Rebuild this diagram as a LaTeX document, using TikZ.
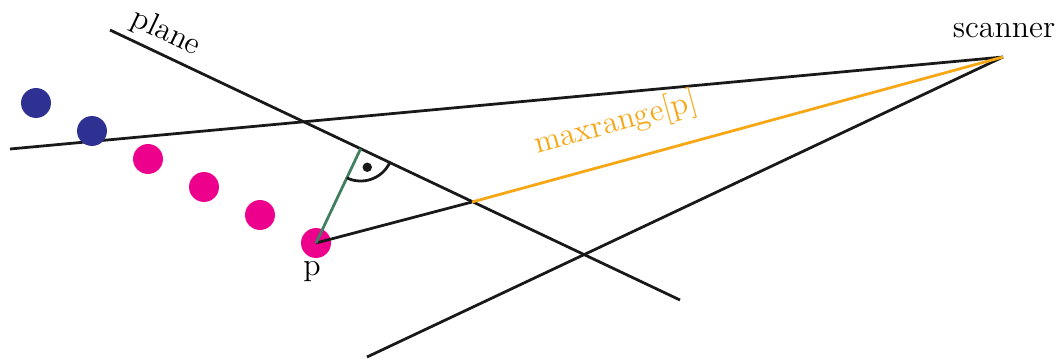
\documentclass[tikz,border=0pt]{standalone}
\usepackage{tikz}
\usetikzlibrary{calc}
\definecolor{ptblue}{RGB}{46,49,146}
\definecolor{ptpink}{RGB}{236,0,140}
\definecolor{rayorange}{RGB}{247,166,20}
\definecolor{normgreen}{RGB}{64,128,96}

\begin{document}
\begin{tikzpicture}[
    x=0.0127cm, y=-0.0127cm,
    every node/.style={font=\fontsize{11.5}{13}\selectfont},
    ray/.style={draw, line width=1pt, black!90},
    pt/.style={circle, inner sep=0pt, minimum size=0.38cm},
  ]
    \useasboundingbox (0,0) rectangle (1057,359);

    % scanner and its view
    \coordinate (scanner) at (1003,57);
    \coordinate (viewleft) at (10,149);
    \coordinate (viewlow) at (367,357);
    \node[anchor=south] (scannerlabel) at (1004,48) {scanner};
    \draw[ray] (viewleft) -- (scanner);
    \draw[ray] (viewlow) -- (scanner);

    % the plane
    \coordinate (planeA) at (110,30);
    \coordinate (planeB) at (680,300);
    \draw[ray] (planeA) -- (planeB);
    \node[rotate=-25.35] (planelabel) at (166,33) {plane};

    % points
    \node[pt, fill=ptblue] (q1) at (36,103) {};
    \node[pt, fill=ptblue] (q2) at (92,131) {};
    \node[pt, fill=ptpink] (q3) at (148,159) {};
    \node[pt, fill=ptpink] (q4) at (204,187) {};
    \node[pt, fill=ptpink] (q5) at (260,215) {};
    \node[pt, fill=ptpink] (p) at (316,243) {};
    \node (plabel) at (312,272) {p};

    % range and normal
    \coordinate (hit) at (472,202);
    \coordinate (foot) at ($(planeA)!(p.center)!(planeB)$);
    \draw[ray] (p.center) -- (hit);
    \draw[line width=1pt, rayorange] (hit) -- (scanner)
      node[pos=0.29, above=4pt, sloped, text=rayorange] (rangelabel) {maxrange[p]};
    \draw[line width=1pt, normgreen] (p.center) -- (foot);
    \draw[line width=1pt, black!90] ([shift={(244.65:0.41cm)}]foot)
      arc[start angle=244.65, end angle=334.65, radius=0.41cm];
    \fill[black!90] ([shift={(289.65:0.25cm)}]foot) circle[radius=0.06cm];
  \end{tikzpicture}
\end{document}
